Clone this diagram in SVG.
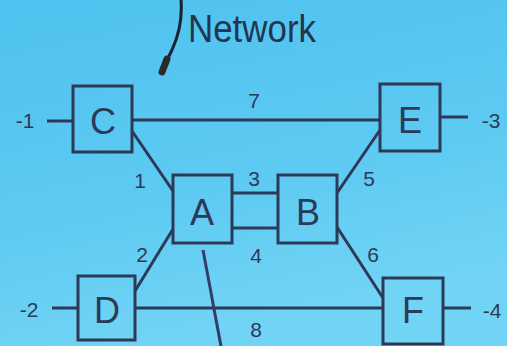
<svg xmlns="http://www.w3.org/2000/svg" width="507" height="346" viewBox="0 0 507 346">
  <defs>
    <linearGradient id="bg" x1="0" y1="0" x2="0.3" y2="1">
      <stop offset="0" stop-color="#4fc2ef"/>
      <stop offset="0.6" stop-color="#5dcaf2"/>
      <stop offset="1" stop-color="#72d4f5"/>
    </linearGradient>
    <style>
      .box { fill: none; stroke: #2c3a57; stroke-width: 3; }
      .link { fill: none; stroke: #2c3a57; stroke-width: 3; }
      .big { font-family: "Liberation Sans", Arial, sans-serif; font-size: 36px; fill: #2c3a57; text-anchor: middle; }
      .lbl { font-family: "Liberation Sans", Arial, sans-serif; font-size: 21px; fill: #2c3a57; text-anchor: middle; }
      .title { font-family: "Liberation Sans", Arial, sans-serif; font-size: 38px; fill: #24344f; }
    </style>
  </defs>

  <rect width="507" height="346" fill="url(#bg)"/>

  <!-- microphone cord and plug -->
  <path d="M181 0 Q183 26 172 50 L167 60" fill="none" stroke="#1b2230" stroke-width="3"/>
  <path d="M167 59 L162 72" stroke="#2a2a2a" stroke-width="7" stroke-linecap="round"/>

  <text class="title" x="188" y="42" textLength="128" lengthAdjust="spacingAndGlyphs">Network</text>

  <!-- connectors -->
  <g id="connectors">
    <line class="link" x1="47" y1="121" x2="73" y2="121"/>
    <line class="link" x1="52" y1="308" x2="78" y2="308"/>
    <line class="link" x1="440" y1="117" x2="468" y2="117"/>
    <line class="link" x1="443" y1="308" x2="471" y2="308"/>
    <line class="link" x1="132" y1="120" x2="380" y2="120"/>
    <line class="link" x1="135" y1="308" x2="383" y2="308"/>
    <line class="link" x1="132" y1="131" x2="173" y2="191"/>
    <line class="link" x1="135" y1="291" x2="173" y2="229"/>
    <line class="link" x1="232" y1="193" x2="278" y2="193"/>
    <line class="link" x1="232" y1="228" x2="278" y2="228"/>
    <line class="link" x1="337" y1="193" x2="380" y2="130"/>
    <line class="link" x1="337" y1="227" x2="383" y2="298"/>
    <text class="lbl" x="25" y="128">-1</text>
    <text class="lbl" x="29" y="317">-2</text>
    <text class="lbl" x="491" y="128">-3</text>
    <text class="lbl" x="492" y="318">-4</text>
    <text class="lbl" x="254" y="108">7</text>
    <text class="lbl" x="140" y="188">1</text>
    <text class="lbl" x="254" y="186">3</text>
    <text class="lbl" x="369" y="186">5</text>
    <text class="lbl" x="142" y="262">2</text>
    <text class="lbl" x="256" y="263">4</text>
    <text class="lbl" x="373" y="262">6</text>
    <text class="lbl" x="256" y="337">8</text>
  </g>

  <g id="node-C"><rect class="box" x="73" y="86" width="59" height="66"/><text class="big" x="103" y="134">C</text></g>
  <g id="node-A"><rect class="box" x="173" y="175" width="59" height="68"/><text class="big" x="202" y="225">A</text></g>
  <g id="node-B"><rect class="box" x="278" y="175" width="59" height="68"/><text class="big" x="308" y="225">B</text></g>
  <g id="node-E"><rect class="box" x="380" y="84" width="60" height="67"/><text class="big" x="410" y="133">E</text></g>
  <g id="node-D"><rect class="box" x="78" y="276" width="57" height="64"/><text class="big" x="107" y="323">D</text></g>
  <g id="node-F"><rect class="box" x="383" y="278" width="60" height="66"/><text class="big" x="413" y="323">F</text></g>

  <!-- pointer stick crossing the lower link -->
  <line x1="203" y1="250" x2="221" y2="346" stroke="#343c68" stroke-width="3"/>
</svg>
